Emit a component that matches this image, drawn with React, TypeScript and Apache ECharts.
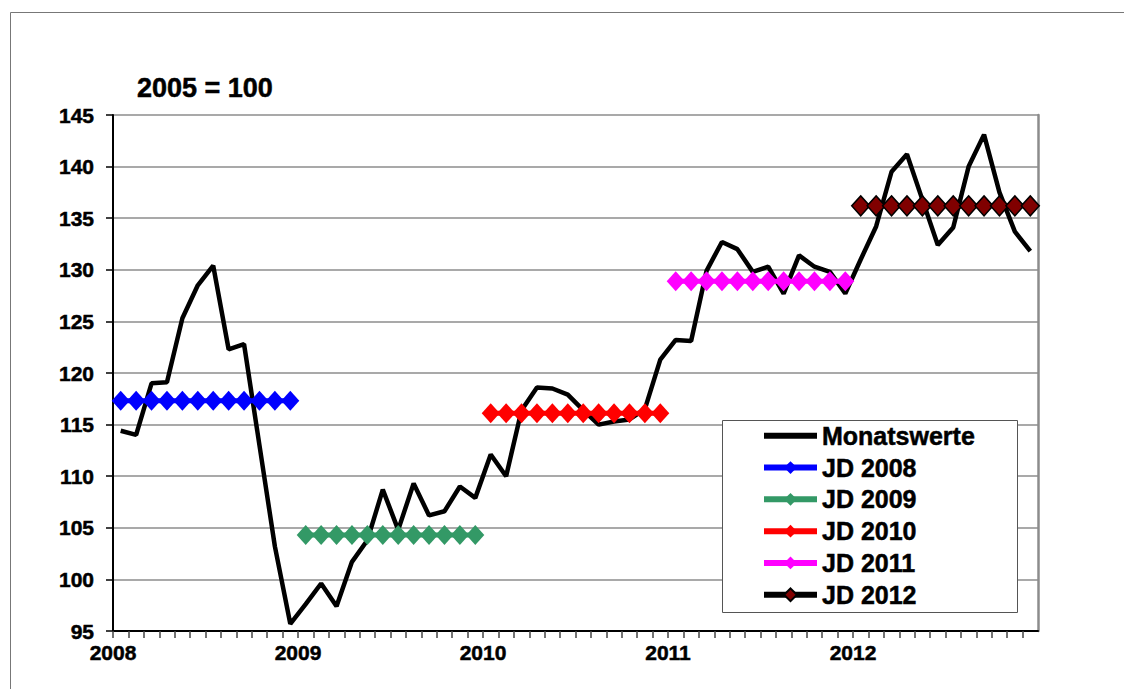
import React, { useEffect, useRef } from "react";
import * as echarts from "echarts";

const years = ["2008", "2009", "2010", "2011", "2012"];
const m2008 = [114.4, 114.0, 119.0, 119.1, 125.3, 128.5, 130.4, 122.3, 122.8, 113.0, 103.2, 95.7];
const m2009 = [97.6, 99.6, 97.4, 101.7, 103.8, 108.7, 104.8, 109.3, 106.2, 106.6, 109.0, 107.9];
const m2010 = [112.1, 110.0, 116.4, 118.6, 118.5, 117.9, 116.4, 115.0, 115.3, 115.5, 116.5, 121.3];
const m2011 = [123.2, 123.1, 129.9, 132.7, 132.0, 129.8, 130.3, 127.7, 131.4, 130.3, 129.8, 127.7];
const m2012 = [131.0, 134.2, 139.5, 141.2, 136.8, 132.4, 134.1, 140.0, 143.1, 137.5, 133.7, 131.8];
const jdValues = [117.3, 104.3, 116.1, 128.9, 136.2];
const jdNames = ["JD 2008", "JD 2009", "JD 2010", "JD 2011", "JD 2012"];
const yTicks = { min: 95, max: 145, step: 5 };
const monthsPerYear = 12;

const FONT = "'Liberation Sans', Arial, sans-serif";
const heavy = { textBorderColor: "#000", textBorderWidth: 0.5 };

export default function App() {
  const ref = useRef<HTMLDivElement>(null);
  useEffect(() => {
    if (!ref.current) return;
    const chart = echarts.init(ref.current, undefined, { renderer: "svg" });
    const monthly = [m2008, m2009, m2010, m2011, m2012];
    const monthData: [number, number][] = [];
    monthly.forEach((arr, yi) =>
      arr.forEach((v, mi) => monthData.push([yi * monthsPerYear + mi + 0.5, v]))
    );
    const jdColors = ["#0000ff", "#339966", "#ff0000", "#ff00ff", "#800000"];
    const jdSeries = jdValues.map((v, yi) => {
      const data: [number, number][] = [];
      for (let mi = 0; mi < monthsPerYear; mi++) data.push([yi * monthsPerYear + mi + 0.5, v]);
      const last = yi === jdValues.length - 1;
      return {
        name: jdNames[yi],
        type: "line",
        data,
        symbol: "diamond",
        symbolSize: [18, 20],
        showSymbol: true,
        itemStyle: last
          ? { color: jdColors[yi], borderColor: "#000", borderWidth: 1.5 }
          : { color: jdColors[yi] },
        lineStyle: { color: last ? "#000" : jdColors[yi], width: 5 },
        z: 3,
      };
    });
    const total = years.length * monthsPerYear;
    chart.setOption({
      animation: false,
      backgroundColor: "#fff",
      title: {
        text: "2005 = 100",
        left: 137,
        top: 74,
        padding: 0,
        textStyle: { fontFamily: FONT, fontWeight: "bold", fontSize: 27, color: "#000", ...heavy },
      },
      graphic: [
        {
          type: "rect",
          shape: { x: 10.5, y: 12.5, width: 1200, height: 800 },
          style: { fill: "none", stroke: "#777", lineWidth: 1 },
          silent: true,
          z: -10,
        },
        {
          type: "rect",
          shape: { x: 722.5, y: 420.5, width: 295, height: 192 },
          style: { fill: "#fff", stroke: "#555", lineWidth: 1 },
          silent: true,
          z: 50,
        },
      ],
      legend: {
        orient: "vertical",
        left: 761,
        top: 423,
        padding: 0,
        itemWidth: 53,
        itemHeight: 16,
        itemGap: 6.3,
        z: 60,
        lineStyle: { width: 6 },
        textStyle: {
          fontFamily: FONT,
          fontWeight: "bold",
          fontSize: 25,
          color: "#000",
          lineHeight: 24,
          ...heavy,
        },
        data: [
          { name: "Monatswerte", itemStyle: { color: "rgba(0,0,0,0)", borderWidth: 0 } },
          ...jdNames,
        ],
      },
      grid: { left: 113, right: 86, top: 115, bottom: 58 },
      xAxis: {
        type: "value",
        min: 0,
        max: total,
        interval: 1,
        axisLine: { show: true, lineStyle: { color: "#000", width: 2 } },
        axisTick: { show: true, length: 7, lineStyle: { color: "#444", width: 1.5 } },
        splitLine: { show: false },
        axisLabel: {
          margin: 11,
          fontFamily: FONT,
          fontWeight: "bold",
          fontSize: 21,
          color: "#000",
          showMaxLabel: false,
          ...heavy,
          formatter: (v: number) =>
            v % monthsPerYear === 0 && v < total ? years[v / monthsPerYear] : "",
        },
      },
      yAxis: [
        {
          type: "value",
          min: yTicks.min,
          max: yTicks.max,
          interval: yTicks.step,
          axisLine: { show: true, lineStyle: { color: "#000", width: 2 } },
          axisTick: { show: true, length: 7, lineStyle: { color: "#000", width: 1.5 } },
          splitLine: { show: true, lineStyle: { color: "#8c8c8c", width: 1.5 } },
          axisLabel: {
            margin: 19,
            fontFamily: FONT,
            fontWeight: "bold",
            fontSize: 21,
            color: "#000",
            ...heavy,
          },
        },
        {
          type: "value",
          position: "right",
          min: yTicks.min,
          max: yTicks.max,
          interval: yTicks.step,
          axisLine: { show: true, lineStyle: { color: "#8c8c8c", width: 2.5 } },
          axisTick: { show: false },
          axisLabel: { show: false },
          splitLine: { show: false },
        },
      ],
      series: [
        {
          name: "Monatswerte",
          type: "line",
          data: monthData,
          symbol: "none",
          showSymbol: false,
          itemStyle: { color: "#000" },
          lineStyle: { color: "#000", width: 4.5 },
          z: 2,
        },
        ...jdSeries,
      ],
    });
    return () => chart.dispose();
  }, []);
  return (
    <div
      ref={ref}
      style={{ position: "fixed", left: 0, top: 0, width: 1124, height: 689 }}
    />
  );
}
